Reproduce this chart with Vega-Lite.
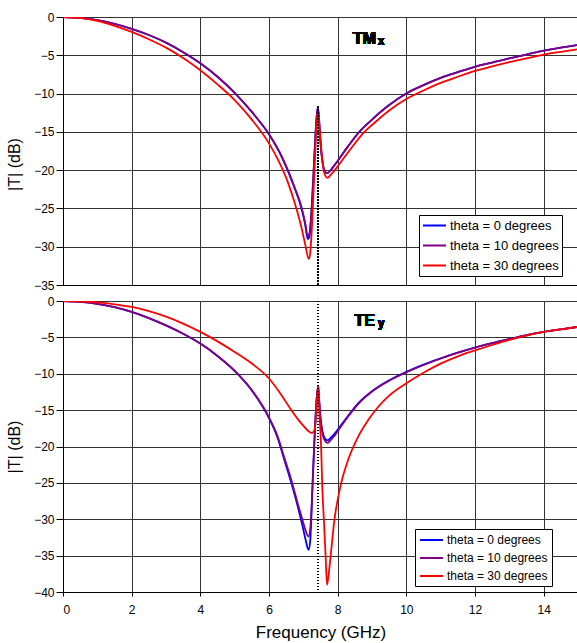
{
"$schema": "https://vega.github.io/schema/vega-lite/v6.json",
"background": "white",
"padding": {"left": 6, "top": 10, "right": 0, "bottom": 0},
"spacing": 16,
"bounds": "flush",
"resolve": {"scale": {"color": "independent"}, "legend": {"color": "independent"}},
"config": {
  "font": "Liberation Sans",
  "view": {"stroke": "#333"},
  "axis": {"gridColor": "#333", "gridOpacity": 1, "domainColor": "#000", "tickColor": "#000", "labelColor": "#000", "titleColor": "#000", "labelFont": "Liberation Sans", "titleFont": "Liberation Sans", "labelFontSize": 12, "titleFontWeight": "normal", "labelOverlap": false}
},
"datasets": {
"tm": [
{"s":"theta = 0 degrees","f":0,"db":0},{"s":"theta = 0 degrees","f":0.5,"db":-0.1},{"s":"theta = 0 degrees","f":1,"db":-0.4},{"s":"theta = 0 degrees","f":1.5,"db":-0.9},{"s":"theta = 0 degrees","f":2,"db":-1.55},{"s":"theta = 0 degrees","f":2.5,"db":-2.35},{"s":"theta = 0 degrees","f":3,"db":-3.35},{"s":"theta = 0 degrees","f":3.5,"db":-4.6},{"s":"theta = 0 degrees","f":4,"db":-6.05},{"s":"theta = 0 degrees","f":4.5,"db":-7.8},{"s":"theta = 0 degrees","f":5,"db":-9.9},{"s":"theta = 0 degrees","f":5.5,"db":-12.4},{"s":"theta = 0 degrees","f":6,"db":-15.3},{"s":"theta = 0 degrees","f":6.3,"db":-17.6},{"s":"theta = 0 degrees","f":6.55,"db":-20.1},{"s":"theta = 0 degrees","f":6.75,"db":-22.4},{"s":"theta = 0 degrees","f":6.94,"db":-24.9},{"s":"theta = 0 degrees","f":7.05,"db":-27.0},{"s":"theta = 0 degrees","f":7.13,"db":-29.0},{"s":"theta = 0 degrees","f":7.18,"db":-28.6},{"s":"theta = 0 degrees","f":7.23,"db":-26.0},{"s":"theta = 0 degrees","f":7.28,"db":-22.0},{"s":"theta = 0 degrees","f":7.33,"db":-17.5},{"s":"theta = 0 degrees","f":7.38,"db":-13.5},{"s":"theta = 0 degrees","f":7.42,"db":-11.8},{"s":"theta = 0 degrees","f":7.45,"db":-12.8},{"s":"theta = 0 degrees","f":7.48,"db":-15.0},{"s":"theta = 0 degrees","f":7.52,"db":-17.5},{"s":"theta = 0 degrees","f":7.58,"db":-19.5},{"s":"theta = 0 degrees","f":7.65,"db":-20.3},{"s":"theta = 0 degrees","f":7.7,"db":-20.4},{"s":"theta = 0 degrees","f":7.8,"db":-20.0},{"s":"theta = 0 degrees","f":7.9,"db":-19.4},{"s":"theta = 0 degrees","f":8,"db":-18.8},{"s":"theta = 0 degrees","f":8.3,"db":-16.9},{"s":"theta = 0 degrees","f":8.63,"db":-15.0},{"s":"theta = 0 degrees","f":9,"db":-13.4},{"s":"theta = 0 degrees","f":9.5,"db":-11.5},{"s":"theta = 0 degrees","f":10,"db":-10.0},{"s":"theta = 0 degrees","f":10.5,"db":-8.9},{"s":"theta = 0 degrees","f":11,"db":-7.95},{"s":"theta = 0 degrees","f":11.5,"db":-7.2},{"s":"theta = 0 degrees","f":12,"db":-6.5},{"s":"theta = 0 degrees","f":12.5,"db":-5.95},{"s":"theta = 0 degrees","f":13,"db":-5.4},{"s":"theta = 0 degrees","f":13.5,"db":-4.9},{"s":"theta = 0 degrees","f":14,"db":-4.4},{"s":"theta = 0 degrees","f":14.5,"db":-4.0},{"s":"theta = 0 degrees","f":15,"db":-3.65},
{"s":"theta = 10 degrees","f":0,"db":0},{"s":"theta = 10 degrees","f":0.5,"db":-0.1},{"s":"theta = 10 degrees","f":1,"db":-0.4},{"s":"theta = 10 degrees","f":1.5,"db":-0.9},{"s":"theta = 10 degrees","f":2,"db":-1.55},{"s":"theta = 10 degrees","f":2.5,"db":-2.35},{"s":"theta = 10 degrees","f":3,"db":-3.35},{"s":"theta = 10 degrees","f":3.5,"db":-4.6},{"s":"theta = 10 degrees","f":4,"db":-6.05},{"s":"theta = 10 degrees","f":4.5,"db":-7.8},{"s":"theta = 10 degrees","f":5,"db":-9.9},{"s":"theta = 10 degrees","f":5.5,"db":-12.4},{"s":"theta = 10 degrees","f":6,"db":-15.3},{"s":"theta = 10 degrees","f":6.3,"db":-17.6},{"s":"theta = 10 degrees","f":6.55,"db":-20.0},{"s":"theta = 10 degrees","f":6.75,"db":-22.3},{"s":"theta = 10 degrees","f":6.94,"db":-24.7},{"s":"theta = 10 degrees","f":7.05,"db":-26.8},{"s":"theta = 10 degrees","f":7.13,"db":-28.6},{"s":"theta = 10 degrees","f":7.18,"db":-28.2},{"s":"theta = 10 degrees","f":7.23,"db":-25.8},{"s":"theta = 10 degrees","f":7.28,"db":-21.8},{"s":"theta = 10 degrees","f":7.33,"db":-17.4},{"s":"theta = 10 degrees","f":7.38,"db":-13.4},{"s":"theta = 10 degrees","f":7.42,"db":-11.8},{"s":"theta = 10 degrees","f":7.45,"db":-12.8},{"s":"theta = 10 degrees","f":7.48,"db":-15.0},{"s":"theta = 10 degrees","f":7.52,"db":-17.5},{"s":"theta = 10 degrees","f":7.58,"db":-19.5},{"s":"theta = 10 degrees","f":7.65,"db":-20.3},{"s":"theta = 10 degrees","f":7.7,"db":-20.4},{"s":"theta = 10 degrees","f":7.8,"db":-20.0},{"s":"theta = 10 degrees","f":7.9,"db":-19.4},{"s":"theta = 10 degrees","f":8,"db":-18.8},{"s":"theta = 10 degrees","f":8.3,"db":-16.9},{"s":"theta = 10 degrees","f":8.63,"db":-15.0},{"s":"theta = 10 degrees","f":9,"db":-13.4},{"s":"theta = 10 degrees","f":9.5,"db":-11.5},{"s":"theta = 10 degrees","f":10,"db":-10.0},{"s":"theta = 10 degrees","f":10.5,"db":-8.9},{"s":"theta = 10 degrees","f":11,"db":-7.95},{"s":"theta = 10 degrees","f":11.5,"db":-7.2},{"s":"theta = 10 degrees","f":12,"db":-6.5},{"s":"theta = 10 degrees","f":12.5,"db":-5.95},{"s":"theta = 10 degrees","f":13,"db":-5.4},{"s":"theta = 10 degrees","f":13.5,"db":-4.9},{"s":"theta = 10 degrees","f":14,"db":-4.4},{"s":"theta = 10 degrees","f":14.5,"db":-4.0},{"s":"theta = 10 degrees","f":15,"db":-3.65},
{"s":"theta = 30 degrees","f":0,"db":0},{"s":"theta = 30 degrees","f":0.5,"db":-0.12},{"s":"theta = 30 degrees","f":1,"db":-0.5},{"s":"theta = 30 degrees","f":1.5,"db":-1.15},{"s":"theta = 30 degrees","f":2,"db":-1.95},{"s":"theta = 30 degrees","f":2.5,"db":-2.9},{"s":"theta = 30 degrees","f":3,"db":-4.0},{"s":"theta = 30 degrees","f":3.5,"db":-5.35},{"s":"theta = 30 degrees","f":4,"db":-6.95},{"s":"theta = 30 degrees","f":4.5,"db":-8.8},{"s":"theta = 30 degrees","f":5,"db":-10.85},{"s":"theta = 30 degrees","f":5.5,"db":-13.4},{"s":"theta = 30 degrees","f":6,"db":-16.5},{"s":"theta = 30 degrees","f":6.3,"db":-19.0},{"s":"theta = 30 degrees","f":6.55,"db":-21.6},{"s":"theta = 30 degrees","f":6.75,"db":-24.3},{"s":"theta = 30 degrees","f":6.94,"db":-27.4},{"s":"theta = 30 degrees","f":7.05,"db":-29.6},{"s":"theta = 30 degrees","f":7.16,"db":-31.6},{"s":"theta = 30 degrees","f":7.2,"db":-30.8},{"s":"theta = 30 degrees","f":7.25,"db":-27.5},{"s":"theta = 30 degrees","f":7.3,"db":-22.5},{"s":"theta = 30 degrees","f":7.35,"db":-17.5},{"s":"theta = 30 degrees","f":7.39,"db":-14.0},{"s":"theta = 30 degrees","f":7.42,"db":-12.6},{"s":"theta = 30 degrees","f":7.45,"db":-13.3},{"s":"theta = 30 degrees","f":7.49,"db":-15.5},{"s":"theta = 30 degrees","f":7.54,"db":-18.0},{"s":"theta = 30 degrees","f":7.6,"db":-20.2},{"s":"theta = 30 degrees","f":7.7,"db":-21.0},{"s":"theta = 30 degrees","f":7.8,"db":-20.6},{"s":"theta = 30 degrees","f":7.9,"db":-20.1},{"s":"theta = 30 degrees","f":8,"db":-19.5},{"s":"theta = 30 degrees","f":8.3,"db":-17.7},{"s":"theta = 30 degrees","f":8.78,"db":-15.0},{"s":"theta = 30 degrees","f":9,"db":-14.1},{"s":"theta = 30 degrees","f":9.5,"db":-12.2},{"s":"theta = 30 degrees","f":10,"db":-10.7},{"s":"theta = 30 degrees","f":10.5,"db":-9.6},{"s":"theta = 30 degrees","f":11,"db":-8.6},{"s":"theta = 30 degrees","f":11.5,"db":-7.8},{"s":"theta = 30 degrees","f":12,"db":-7.05},{"s":"theta = 30 degrees","f":12.5,"db":-6.45},{"s":"theta = 30 degrees","f":13,"db":-5.9},{"s":"theta = 30 degrees","f":13.5,"db":-5.4},{"s":"theta = 30 degrees","f":14,"db":-4.9},{"s":"theta = 30 degrees","f":14.5,"db":-4.55},{"s":"theta = 30 degrees","f":15,"db":-4.2}
],
"te": [
{"s":"theta = 0 degrees","f":0,"db":0},{"s":"theta = 0 degrees","f":0.5,"db":-0.1},{"s":"theta = 0 degrees","f":1,"db":-0.38},{"s":"theta = 0 degrees","f":1.5,"db":-0.85},{"s":"theta = 0 degrees","f":2,"db":-1.5},{"s":"theta = 0 degrees","f":2.5,"db":-2.35},{"s":"theta = 0 degrees","f":3,"db":-3.35},{"s":"theta = 0 degrees","f":3.5,"db":-4.5},{"s":"theta = 0 degrees","f":4,"db":-5.85},{"s":"theta = 0 degrees","f":4.5,"db":-7.55},{"s":"theta = 0 degrees","f":5,"db":-9.6},{"s":"theta = 0 degrees","f":5.5,"db":-12.3},{"s":"theta = 0 degrees","f":6,"db":-16.1},{"s":"theta = 0 degrees","f":6.25,"db":-18.8},{"s":"theta = 0 degrees","f":6.45,"db":-21.9},{"s":"theta = 0 degrees","f":6.65,"db":-25.0},{"s":"theta = 0 degrees","f":6.84,"db":-28.3},{"s":"theta = 0 degrees","f":6.97,"db":-30.8},{"s":"theta = 0 degrees","f":7.07,"db":-32.9},{"s":"theta = 0 degrees","f":7.15,"db":-34.2},{"s":"theta = 0 degrees","f":7.2,"db":-33.0},{"s":"theta = 0 degrees","f":7.24,"db":-29.0},{"s":"theta = 0 degrees","f":7.28,"db":-24.0},{"s":"theta = 0 degrees","f":7.33,"db":-18.5},{"s":"theta = 0 degrees","f":7.38,"db":-14.0},{"s":"theta = 0 degrees","f":7.43,"db":-11.7},{"s":"theta = 0 degrees","f":7.46,"db":-13.5},{"s":"theta = 0 degrees","f":7.5,"db":-16.0},{"s":"theta = 0 degrees","f":7.56,"db":-18.0},{"s":"theta = 0 degrees","f":7.63,"db":-18.9},{"s":"theta = 0 degrees","f":7.71,"db":-19.15},{"s":"theta = 0 degrees","f":7.8,"db":-18.8},{"s":"theta = 0 degrees","f":7.9,"db":-18.3},{"s":"theta = 0 degrees","f":8,"db":-17.7},{"s":"theta = 0 degrees","f":8.3,"db":-15.8},{"s":"theta = 0 degrees","f":8.59,"db":-14.1},{"s":"theta = 0 degrees","f":9,"db":-12.4},{"s":"theta = 0 degrees","f":9.5,"db":-10.9},{"s":"theta = 0 degrees","f":10,"db":-9.75},{"s":"theta = 0 degrees","f":10.5,"db":-8.75},{"s":"theta = 0 degrees","f":11,"db":-7.9},{"s":"theta = 0 degrees","f":11.5,"db":-7.1},{"s":"theta = 0 degrees","f":12,"db":-6.4},{"s":"theta = 0 degrees","f":12.5,"db":-5.8},{"s":"theta = 0 degrees","f":13,"db":-5.25},{"s":"theta = 0 degrees","f":13.5,"db":-4.7},{"s":"theta = 0 degrees","f":14,"db":-4.25},{"s":"theta = 0 degrees","f":14.5,"db":-3.9},{"s":"theta = 0 degrees","f":15,"db":-3.55},
{"s":"theta = 10 degrees","f":0,"db":0},{"s":"theta = 10 degrees","f":0.5,"db":-0.1},{"s":"theta = 10 degrees","f":1,"db":-0.38},{"s":"theta = 10 degrees","f":1.5,"db":-0.85},{"s":"theta = 10 degrees","f":2,"db":-1.5},{"s":"theta = 10 degrees","f":2.5,"db":-2.35},{"s":"theta = 10 degrees","f":3,"db":-3.35},{"s":"theta = 10 degrees","f":3.5,"db":-4.5},{"s":"theta = 10 degrees","f":4,"db":-5.85},{"s":"theta = 10 degrees","f":4.5,"db":-7.55},{"s":"theta = 10 degrees","f":5,"db":-9.6},{"s":"theta = 10 degrees","f":5.5,"db":-12.25},{"s":"theta = 10 degrees","f":6,"db":-16.0},{"s":"theta = 10 degrees","f":6.25,"db":-18.6},{"s":"theta = 10 degrees","f":6.45,"db":-21.6},{"s":"theta = 10 degrees","f":6.65,"db":-24.6},{"s":"theta = 10 degrees","f":6.84,"db":-27.9},{"s":"theta = 10 degrees","f":6.97,"db":-30.0},{"s":"theta = 10 degrees","f":7.07,"db":-31.6},{"s":"theta = 10 degrees","f":7.15,"db":-32.4},{"s":"theta = 10 degrees","f":7.2,"db":-31.4},{"s":"theta = 10 degrees","f":7.24,"db":-28.3},{"s":"theta = 10 degrees","f":7.28,"db":-23.8},{"s":"theta = 10 degrees","f":7.33,"db":-18.5},{"s":"theta = 10 degrees","f":7.38,"db":-14.0},{"s":"theta = 10 degrees","f":7.43,"db":-11.7},{"s":"theta = 10 degrees","f":7.46,"db":-13.6},{"s":"theta = 10 degrees","f":7.5,"db":-16.2},{"s":"theta = 10 degrees","f":7.56,"db":-18.3},{"s":"theta = 10 degrees","f":7.63,"db":-19.2},{"s":"theta = 10 degrees","f":7.71,"db":-19.5},{"s":"theta = 10 degrees","f":7.8,"db":-19.1},{"s":"theta = 10 degrees","f":7.9,"db":-18.6},{"s":"theta = 10 degrees","f":8,"db":-17.9},{"s":"theta = 10 degrees","f":8.3,"db":-15.9},{"s":"theta = 10 degrees","f":8.59,"db":-14.2},{"s":"theta = 10 degrees","f":9,"db":-12.45},{"s":"theta = 10 degrees","f":9.5,"db":-10.95},{"s":"theta = 10 degrees","f":10,"db":-9.8},{"s":"theta = 10 degrees","f":10.5,"db":-8.8},{"s":"theta = 10 degrees","f":11,"db":-7.9},{"s":"theta = 10 degrees","f":11.5,"db":-7.1},{"s":"theta = 10 degrees","f":12,"db":-6.4},{"s":"theta = 10 degrees","f":12.5,"db":-5.8},{"s":"theta = 10 degrees","f":13,"db":-5.25},{"s":"theta = 10 degrees","f":13.5,"db":-4.7},{"s":"theta = 10 degrees","f":14,"db":-4.25},{"s":"theta = 10 degrees","f":14.5,"db":-3.9},{"s":"theta = 10 degrees","f":15,"db":-3.55},
{"s":"theta = 30 degrees","f":0,"db":0},{"s":"theta = 30 degrees","f":0.5,"db":-0.05},{"s":"theta = 30 degrees","f":1,"db":-0.2},{"s":"theta = 30 degrees","f":1.5,"db":-0.45},{"s":"theta = 30 degrees","f":2,"db":-0.82},{"s":"theta = 30 degrees","f":2.5,"db":-1.4},{"s":"theta = 30 degrees","f":3,"db":-2.15},{"s":"theta = 30 degrees","f":3.5,"db":-3.1},{"s":"theta = 30 degrees","f":4,"db":-4.25},{"s":"theta = 30 degrees","f":4.5,"db":-5.55},{"s":"theta = 30 degrees","f":5,"db":-7.0},{"s":"theta = 30 degrees","f":5.5,"db":-8.6},{"s":"theta = 30 degrees","f":6,"db":-10.65},{"s":"theta = 30 degrees","f":6.3,"db":-12.5},{"s":"theta = 30 degrees","f":6.65,"db":-15.0},{"s":"theta = 30 degrees","f":6.85,"db":-16.3},{"s":"theta = 30 degrees","f":7.03,"db":-17.3},{"s":"theta = 30 degrees","f":7.15,"db":-17.9},{"s":"theta = 30 degrees","f":7.25,"db":-18.15},{"s":"theta = 30 degrees","f":7.32,"db":-17.8},{"s":"theta = 30 degrees","f":7.36,"db":-16.5},{"s":"theta = 30 degrees","f":7.39,"db":-14.5},{"s":"theta = 30 degrees","f":7.42,"db":-12.2},{"s":"theta = 30 degrees","f":7.44,"db":-11.7},{"s":"theta = 30 degrees","f":7.47,"db":-15.5},{"s":"theta = 30 degrees","f":7.52,"db":-20.3},{"s":"theta = 30 degrees","f":7.55,"db":-25.3},{"s":"theta = 30 degrees","f":7.6,"db":-30.2},{"s":"theta = 30 degrees","f":7.65,"db":-35.2},{"s":"theta = 30 degrees","f":7.69,"db":-39.0},{"s":"theta = 30 degrees","f":7.74,"db":-37.5},{"s":"theta = 30 degrees","f":7.79,"db":-35.3},{"s":"theta = 30 degrees","f":7.9,"db":-30.3},{"s":"theta = 30 degrees","f":8.09,"db":-25.3},{"s":"theta = 30 degrees","f":8.3,"db":-21.9},{"s":"theta = 30 degrees","f":8.59,"db":-18.7},{"s":"theta = 30 degrees","f":8.9,"db":-16.3},{"s":"theta = 30 degrees","f":9.17,"db":-14.6},{"s":"theta = 30 degrees","f":9.5,"db":-13.0},{"s":"theta = 30 degrees","f":10,"db":-11.3},{"s":"theta = 30 degrees","f":10.5,"db":-9.85},{"s":"theta = 30 degrees","f":11,"db":-8.6},{"s":"theta = 30 degrees","f":11.5,"db":-7.6},{"s":"theta = 30 degrees","f":12,"db":-6.8},{"s":"theta = 30 degrees","f":12.5,"db":-6.05},{"s":"theta = 30 degrees","f":13,"db":-5.35},{"s":"theta = 30 degrees","f":13.5,"db":-4.75},{"s":"theta = 30 degrees","f":14,"db":-4.25},{"s":"theta = 30 degrees","f":14.5,"db":-3.9},{"s":"theta = 30 degrees","f":15,"db":-3.55}
]
},
"vconcat": [
{
  "width": 515, "height": 268,
  "data": {"name": "tm"},
  "layer": [
    {
      "mark": {"type": "line", "strokeWidth": 1.8, "interpolate": "monotone", "clip": true},
      "encoding": {
        "x": {"field": "f", "type": "quantitative", "scale": {"domain": [0, 15], "nice": false},
              "axis": {"values": [0,2,4,6,8,10,12,14], "tickCount": 20, "labels": false, "ticks": false, "title": null, "grid": true}},
        "y": {"field": "db", "type": "quantitative", "scale": {"domain": [-35, 0], "nice": false},
              "axis": {"values": [-35,-30,-25,-20,-15,-10,-5,0], "tickCount": 20, "labelOverlap": false, "title": "|T| (dB)", "titleFontSize": 16, "titlePadding": 11, "titleY": 147, "tickSize": 7, "labelPadding": 2, "grid": true}},
        "color": {"field": "s", "type": "nominal",
                  "scale": {"domain": ["theta = 0 degrees", "theta = 10 degrees", "theta = 30 degrees"], "range": ["#0000FF", "#800080", "#FF0000"]},
                  "legend": {"orient": "none", "legendX": 356, "legendY": 198, "title": null, "padding": 3, "strokeColor": "#000", "fillColor": "#fff", "cornerRadius": 0,
                             "symbolType": "M-1,0H2.54", "symbolSize": 169, "symbolStrokeWidth": 2, "labelFontSize": 13, "labelFont": "Liberation Sans", "labelOffset": 13, "rowPadding": 5, "labelLimit": 300}}
      }
    },
    {
      "mark": {"type": "rule", "color": "#000", "strokeWidth": 1, "strokeDash": [1, 2]},
      "encoding": {"x": {"datum": 7.43, "type": "quantitative"}, "y": {"datum": -11.7, "type": "quantitative"}, "y2": {"datum": -35}}
    },
    {
      "mark": {"type": "text", "text": "TM", "align": "left", "baseline": "alphabetic", "fontSize": 16, "fontWeight": "bold", "font": "Liberation Sans", "color": "#000"},
      "encoding": {"x": {"datum": 8.44, "type": "quantitative"}, "y": {"datum": -3.56, "type": "quantitative"}}
    },
    {
      "mark": {"type": "text", "text": "x", "align": "left", "baseline": "alphabetic", "fontSize": 12, "fontWeight": "bold", "font": "Liberation Sans", "color": "#000"},
      "encoding": {"x": {"datum": 9.17, "type": "quantitative"}, "y": {"datum": -3.72, "type": "quantitative"}}
    }
  ]
},
{
  "width": 515, "height": 291,
  "data": {"name": "te"},
  "layer": [
    {
      "mark": {"type": "line", "strokeWidth": 1.8, "interpolate": "monotone", "clip": true},
      "encoding": {
        "x": {"field": "f", "type": "quantitative", "scale": {"domain": [0, 15], "nice": false},
              "axis": {"values": [0,2,4,6,8,10,12,14], "tickCount": 20, "labelOverlap": false, "title": "Frequency (GHz)", "titleFontSize": 17, "titlePadding": 9, "tickSize": 4, "labelPadding": 8, "grid": true}},
        "y": {"field": "db", "type": "quantitative", "scale": {"domain": [-40, 0], "nice": false},
              "axis": {"values": [-40,-35,-30,-25,-20,-15,-10,-5,0], "tickCount": 20, "labelOverlap": false, "title": "|T| (dB)", "titleFontSize": 16, "titlePadding": 11, "tickSize": 7, "labelPadding": 2, "grid": true}},
        "color": {"field": "s", "type": "nominal",
                  "scale": {"domain": ["theta = 0 degrees", "theta = 10 degrees", "theta = 30 degrees"], "range": ["#0000FF", "#800080", "#FF0000"]},
                  "legend": {"orient": "none", "legendX": 352, "legendY": 228, "title": null, "padding": 4, "strokeColor": "#000", "fillColor": "#fff", "cornerRadius": 0,
                             "symbolType": "M-1,0H2.83", "symbolSize": 144, "symbolStrokeWidth": 2, "labelFontSize": 12, "labelFont": "Liberation Sans", "labelOffset": 14, "rowPadding": 5, "labelLimit": 300}}
      }
    },
    {
      "mark": {"type": "rule", "color": "#000", "strokeWidth": 1, "strokeDash": [1, 2]},
      "encoding": {"x": {"datum": 7.43, "type": "quantitative"}, "y": {"datum": 0, "type": "quantitative"}, "y2": {"datum": -40}}
    },
    {
      "mark": {"type": "text", "text": "TE", "align": "left", "baseline": "alphabetic", "fontSize": 16, "fontWeight": "bold", "font": "Liberation Sans", "color": "#000"},
      "encoding": {"x": {"datum": 8.49, "type": "quantitative"}, "y": {"datum": -3.39, "type": "quantitative"}}
    },
    {
      "mark": {"type": "text", "text": "y", "align": "left", "baseline": "alphabetic", "fontSize": 12, "fontWeight": "bold", "font": "Liberation Sans", "color": "#000"},
      "encoding": {"x": {"datum": 9.17, "type": "quantitative"}, "y": {"datum": -3.64, "type": "quantitative"}}
    }
  ]
}
]
}
